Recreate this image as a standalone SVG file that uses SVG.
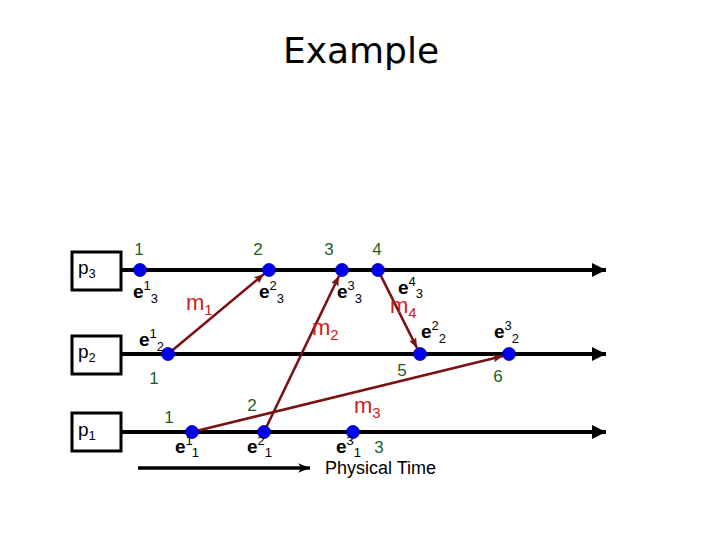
<svg xmlns="http://www.w3.org/2000/svg" width="720" height="540" viewBox="0 0 720 540">
<defs>
<style>
.box{fill:#fff;stroke:#000;stroke-width:3}
.tl{stroke:#000;stroke-width:4;fill:none}
.msg{stroke:#7b1113;stroke-width:2.6;fill:none}
.dot{fill:#0000f0;stroke:#0000a0;stroke-width:0.8}
.num{font-family:"Liberation Sans",Arial,sans-serif;font-size:17px;fill:#1d601d;text-anchor:middle}
.ev{font-family:"Liberation Sans",Arial,sans-serif;font-size:19px;font-weight:bold;fill:#000}
.sc{font-size:13px;font-weight:normal}
.ml{font-family:"Liberation Sans",Arial,sans-serif;font-size:22px;fill:#cc2020}
.ms{font-size:15px}
.pl{font-family:"Liberation Sans",Arial,sans-serif;font-size:19px;fill:#000}
.ps{font-size:13px}
</style>
<marker id="ah" viewBox="0 0 10 10" refX="10" refY="5" markerWidth="14" markerHeight="14" markerUnits="userSpaceOnUse" orient="auto"><path d="M0,0 L10,5 L0,10 z" fill="#000"/></marker>
<marker id="mh" viewBox="0 0 10 10" refX="10" refY="5" markerWidth="10" markerHeight="10" markerUnits="userSpaceOnUse" orient="auto"><path d="M0,1 L10,5 L0,9 L2,5 z" fill="#7b1113"/></marker>
<marker id="ph" viewBox="0 0 10 10" refX="10" refY="5" markerWidth="12" markerHeight="12" markerUnits="userSpaceOnUse" orient="auto"><path d="M0,1 L10,5 L0,9 L3,5 z" fill="#000"/></marker>
</defs>
<rect width="720" height="540" fill="#fff"/>
<text x="361" y="63" font-family="'DejaVu Sans',Verdana,sans-serif" font-size="36" text-anchor="middle" fill="#000">Example</text>

<g id="p3"><rect class="box" x="72" y="252" width="49" height="38"/><text class="pl" x="78" y="274">p<tspan class="ps" dy="4">3</tspan></text></g>
<g id="p2"><rect class="box" x="72" y="336" width="49" height="38"/><text class="pl" x="78" y="358">p<tspan class="ps" dy="4">2</tspan></text></g>
<g id="p1"><rect class="box" x="72" y="413" width="49" height="38"/><text class="pl" x="78" y="436">p<tspan class="ps" dy="4">1</tspan></text></g>

<g id="timelines">
<line class="tl" x1="121" y1="270" x2="606" y2="270" marker-end="url(#ah)"/>
<line class="tl" x1="121" y1="354" x2="606" y2="354" marker-end="url(#ah)"/>
<line class="tl" x1="121" y1="432" x2="606" y2="432" marker-end="url(#ah)"/>
</g>

<g id="connectors">
<line class="msg" x1="168" y1="354" x2="264" y2="274" marker-end="url(#mh)"/>
<line class="msg" x1="264" y1="432" x2="339" y2="276" marker-end="url(#mh)"/>
<line class="msg" x1="192" y1="432" x2="503" y2="356" marker-end="url(#mh)"/>
<line class="msg" x1="378" y1="270" x2="417" y2="348" marker-end="url(#mh)"/>
<line x1="138" y1="468" x2="310" y2="468" stroke="#000" stroke-width="3.5" marker-end="url(#ph)"/>
</g>

<g id="events">
<circle class="dot" cx="140" cy="270" r="6.5"/>
<circle class="dot" cx="269" cy="270" r="6.5"/>
<circle class="dot" cx="342" cy="270" r="6.5"/>
<circle class="dot" cx="378" cy="270" r="6.5"/>
<circle class="dot" cx="168" cy="354" r="6.5"/>
<circle class="dot" cx="420" cy="354" r="6.5"/>
<circle class="dot" cx="509" cy="354" r="6.5"/>
<circle class="dot" cx="192" cy="432" r="6.5"/>
<circle class="dot" cx="264" cy="432" r="6.5"/>
<circle class="dot" cx="353" cy="432" r="6.5"/>
</g>

<g id="numbers">
<text class="num" x="139" y="255">1</text>
<text class="num" x="258" y="255">2</text>
<text class="num" x="329" y="255">3</text>
<text class="num" x="377" y="255">4</text>
<text class="num" x="154" y="384">1</text>
<text class="num" x="402" y="376">5</text>
<text class="num" x="498" y="382">6</text>
<text class="num" x="169" y="423">1</text>
<text class="num" x="252" y="411">2</text>
<text class="num" x="379" y="453">3</text>
</g>

<g id="event-labels">
<text class="ev" x="133" y="298">e<tspan class="sc" dy="-8">1</tspan><tspan class="sc" dy="13">3</tspan></text>
<text class="ev" x="259" y="298">e<tspan class="sc" dy="-8">2</tspan><tspan class="sc" dy="13">3</tspan></text>
<text class="ev" x="337" y="298">e<tspan class="sc" dy="-8">3</tspan><tspan class="sc" dy="13">3</tspan></text>
<text class="ev" x="398" y="294">e<tspan class="sc" dy="-8">4</tspan><tspan class="sc" dy="12">3</tspan></text>
<text class="ev" x="139" y="346">e<tspan class="sc" dy="-8">1</tspan><tspan class="sc" dy="13">2</tspan></text>
<text class="ev" x="421" y="338">e<tspan class="sc" dy="-8">2</tspan><tspan class="sc" dy="13">2</tspan></text>
<text class="ev" x="494" y="338">e<tspan class="sc" dy="-8">3</tspan><tspan class="sc" dy="13">2</tspan></text>
<text class="ev" x="175" y="453">e<tspan class="sc" dy="-8">1</tspan><tspan class="sc" dy="12">1</tspan></text>
<text class="ev" x="247" y="453">e<tspan class="sc" dy="-8">2</tspan><tspan class="sc" dy="12">1</tspan></text>
<text class="ev" x="336" y="453">e<tspan class="sc" dy="-8">3</tspan><tspan class="sc" dy="12">1</tspan></text>
</g>

<g id="message-labels">
<text class="ml" x="186" y="310">m<tspan class="ms" dy="5">1</tspan></text>
<text class="ml" x="312" y="335">m<tspan class="ms" dy="5">2</tspan></text>
<text class="ml" x="354" y="413">m<tspan class="ms" dy="5">3</tspan></text>
<text class="ml" x="390" y="313">m<tspan class="ms" dy="5">4</tspan></text>
</g>

<text x="325" y="474" font-family="'Liberation Sans',Arial,sans-serif" font-size="18" fill="#000">Physical Time</text>
</svg>
